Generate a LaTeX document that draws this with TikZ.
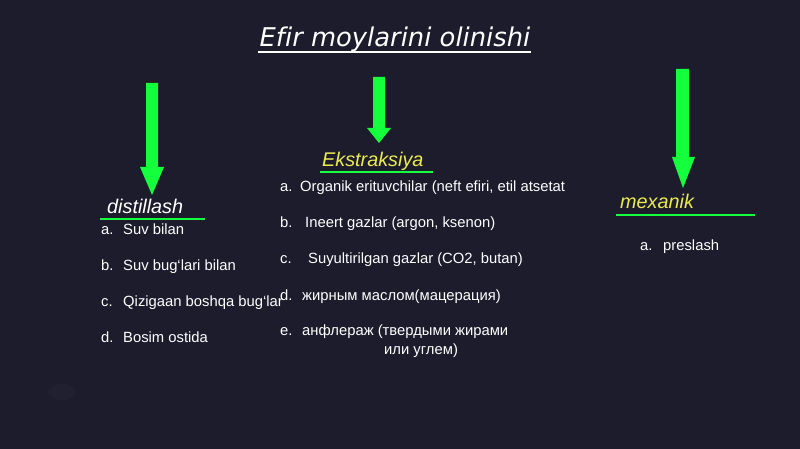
\documentclass[tikz,border=0pt]{standalone}
\usepackage{fontspec}
\setmainfont{Liberation Sans}
\newfontfamily\titlefont[Ligatures={NoCommon}]{DejaVu Sans}
\newcommand{\gr}{{\char"0060}}
\begin{document}
\begin{tikzpicture}[x=1pt,y=-1pt,
  lst/.style={anchor=base west,inner sep=0pt,text=white,font=\fontsize{14.8}{17}\selectfont},
  head/.style={anchor=base west,inner sep=0pt,font=\fontsize{19.8}{22}\selectfont\itshape},
  uline/.style={draw=grn,line width=2pt},
  garrow/.style={fill=grn,draw=none}]
\definecolor{bg}{RGB}{29,28,45}
\definecolor{grn}{RGB}{20,255,60}
\definecolor{ylw}{RGB}{235,235,80}
\fill[bg] (0,0) rectangle (800,449);
\useasboundingbox (0,0) rectangle (800,449);
% faint blob
\fill[white,opacity=0.02] (62,392) ellipse (14 and 8);
% title
\node[anchor=base,inner sep=0pt,text=white,font=\titlefont\fontsize{25.8}{28}\selectfont\itshape] (title) at (395,47) {Efir moylarini olinishi};
\draw[white,line width=1.2pt] (258,52) -- (531,52);
% arrows
\fill[garrow] (146,83) -- (158,83) -- (158,167) -- (164,167) -- (152,195) -- (140,167) -- (146,167) -- cycle;
\fill[garrow] (373,77) -- (385,77) -- (385,128) -- (391,128) -- (379,143) -- (367,128) -- (373,128) -- cycle;
\fill[garrow] (676,69) -- (689,69) -- (689,157) -- (695,157) -- (683,188) -- (672,157) -- (676,157) -- cycle;
% headings
\node[head,text=white] (dist) at (107,214) {distillash};
\draw[uline] (100,219) -- (205,219);
\node[head,text=ylw] (ekst) at (322,167) {Ekstraksiya};
\draw[uline] (320,172.5) -- (433,172.5);
\node[head,text=ylw] (mex) at (620,208) {mexanik};
\draw[uline] (616,215) -- (755,215);
% left list
\node[lst] (la) at (101,234) {a.};
\node[lst] (lat) at (123,234) {Suv bilan};
\node[lst] (lb) at (101,270) {b.};
\node[lst] (lbt) at (123,270) {Suv bug\gr lari bilan};
\node[lst] (lc) at (101,306) {c.};
\node[lst] (lct) at (123,306) {Qizigaan boshqa bug\gr lar};
\node[lst] (ld) at (101,342) {d.};
\node[lst] (ldt) at (123,342) {Bosim ostida};
% middle list
\node[lst] (ma) at (280,192) {a.};
\node[lst] (mat) at (300,192) {Organik erituvchilar (neft efiri, etil atsetat};
\node[lst] (mb) at (280,227) {b.};
\node[lst] (mbt) at (305,227) {Ineert gazlar (argon, ksenon)};
\node[lst] (mc) at (280,263) {c.};
\node[lst] (mct) at (308,263) {Suyultirilgan gazlar (CO2, butan)};
\node[lst] (md) at (280,300) {d.};
\node[lst] (mdt) at (302,300) {жирным маслом(мацерация)};
\node[lst] (me) at (280,335) {e.};
\node[lst] (met) at (302,335) {анфлераж (твердыми жирами};
\node[lst] (met2) at (384,354) {или углем)};
% right list
\node[lst] (ra) at (640,250) {a.};
\node[lst] (rat) at (663,250) {preslash};
\end{tikzpicture}
\end{document}
